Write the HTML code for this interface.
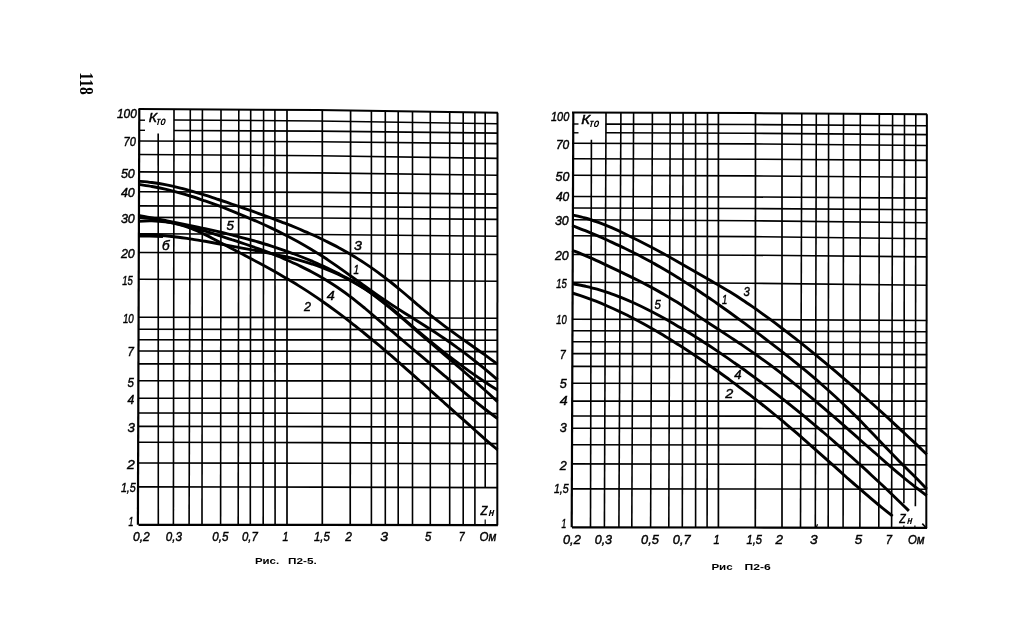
<!DOCTYPE html>
<html lang="ru">
<head>
<meta charset="utf-8">
<title>118</title>
<style>
html,body{margin:0;padding:0;background:#fff;}
body{width:1009px;height:644px;overflow:hidden;}
svg{display:block;}
</style>
</head>
<body>
<svg width="1009" height="644" viewBox="0 0 1009 644">
<rect x="0" y="0" width="1009" height="644" fill="#fff"/>
<g stroke="#000" fill="none" stroke-linecap="butt">
<line x1="139.3" y1="108.9" x2="137.9" y2="524.8" stroke-width="2.2"/>
<line x1="158.2" y1="133.5" x2="158.3" y2="524.8" stroke-width="1.6"/>
<line x1="174" y1="109.1" x2="173.4" y2="524.8" stroke-width="1.6"/>
<line x1="190.3" y1="109.2" x2="189.1" y2="524.8" stroke-width="1.6"/>
<line x1="202.4" y1="109.3" x2="202" y2="524.8" stroke-width="1.6"/>
<line x1="221" y1="109.4" x2="220.6" y2="524.9" stroke-width="1.6"/>
<line x1="238.8" y1="109.6" x2="238.2" y2="524.9" stroke-width="1.6"/>
<line x1="250.7" y1="109.6" x2="250.3" y2="524.9" stroke-width="1.6"/>
<line x1="263.6" y1="109.7" x2="263.2" y2="524.9" stroke-width="1.6"/>
<line x1="274.9" y1="109.8" x2="275.1" y2="524.9" stroke-width="1.6"/>
<line x1="287" y1="109.9" x2="287" y2="524.9" stroke-width="1.7"/>
<line x1="322.3" y1="110.1" x2="322.3" y2="524.9" stroke-width="1.7"/>
<line x1="350.6" y1="110.6" x2="350.2" y2="525" stroke-width="1.7"/>
<line x1="371.4" y1="110.9" x2="371.4" y2="525" stroke-width="1.6"/>
<line x1="385.3" y1="111.1" x2="385.3" y2="525" stroke-width="1.6"/>
<line x1="398.2" y1="111.3" x2="398.2" y2="525" stroke-width="1.6"/>
<line x1="412.5" y1="111.5" x2="412.5" y2="525.1" stroke-width="1.6"/>
<line x1="430.3" y1="111.8" x2="430.3" y2="525.1" stroke-width="1.6"/>
<line x1="449.7" y1="112.1" x2="449.7" y2="525.1" stroke-width="1.6"/>
<line x1="463.2" y1="112.3" x2="463.2" y2="525.1" stroke-width="1.6"/>
<line x1="474.9" y1="112.5" x2="474.9" y2="525.2" stroke-width="1.6"/>
<line x1="485.2" y1="112.6" x2="485.2" y2="487.6" stroke-width="1.6"/>
<line x1="497.5" y1="112.8" x2="497.3" y2="525.2" stroke-width="2.0"/>
<polyline points="138.5,108.9 318,110.1 497.9,112.8" stroke-width="2.0"/>
<polyline points="174,120 318,121 497.9,123.7" stroke-width="1.6"/>
<polyline points="174,130.5 318,131.1 497.9,133.1" stroke-width="1.6"/>
<polyline points="138.5,141 318,141.8 497.9,143.6" stroke-width="1.6"/>
<polyline points="138.5,154.5 318,155.7 497.9,158.4" stroke-width="1.6"/>
<polyline points="138.5,171.9 318,172.9 497.9,175.3" stroke-width="1.6"/>
<polyline points="138.5,191.7 318,192.4 497.9,194.1" stroke-width="1.6"/>
<polyline points="138.5,205.9 318,206.5 497.9,207.9" stroke-width="1.6"/>
<polyline points="138.5,217.4 318,218 497.9,219.4" stroke-width="1.6"/>
<polyline points="138.5,233.7 318,234.5 497.9,236.3" stroke-width="1.6"/>
<polyline points="138.5,252.5 318,253.1 497.9,254.5" stroke-width="1.6"/>
<polyline points="138.5,279.3 318,279.9 497.9,281.3" stroke-width="1.6"/>
<polyline points="138.5,317.2 318,317.5 497.9,318.3" stroke-width="1.6"/>
<polyline points="138.5,329.2 318,329.4 497.9,329.8" stroke-width="1.6"/>
<polyline points="138.5,339.7 318,339.9 497.9,340.3" stroke-width="1.6"/>
<polyline points="138.5,351 318,351.2 497.9,351.6" stroke-width="1.6"/>
<polyline points="138.5,363.9 318,363.9 497.9,363.9" stroke-width="1.6"/>
<polyline points="138.5,380.7 318,380.9 497.9,381.3" stroke-width="1.6"/>
<polyline points="138.5,398.2 318,398.2 497.9,398.2" stroke-width="1.6"/>
<polyline points="138.5,413 318,413.2 497.9,413.6" stroke-width="1.6"/>
<polyline points="138.5,426.4 318,426.6 497.9,427.2" stroke-width="1.6"/>
<polyline points="138.5,442.2 318,442.6 497.9,443.6" stroke-width="1.6"/>
<polyline points="138.5,463 318,463.2 497.9,463.8" stroke-width="1.6"/>
<polyline points="138.5,486.9 318,487.1 497.9,487.6" stroke-width="1.6"/>
<polyline points="138.5,524.8 318,524.9 497.9,525.2" stroke-width="2.2"/>
<line x1="139" y1="120.2" x2="145" y2="120.2" stroke-width="1.4"/>
<line x1="139" y1="130.3" x2="145" y2="130.3" stroke-width="1.4"/>
<line x1="485.2" y1="519.5" x2="485.2" y2="525" stroke-width="1.2"/>
</g>
<g stroke="#000" fill="none" stroke-linecap="butt" stroke-linejoin="round">
<path d="M138.6,181.2C140.8,181.4 147.5,181.9 151.9,182.5C156.3,183.1 160.8,183.8 165.2,184.7C169.6,185.5 174,186.5 178.5,187.6C182.9,188.7 187.3,189.9 191.8,191.1C196.2,192.4 200.6,193.8 205.1,195.1C209.5,196.5 213.9,198 218.4,199.5C222.8,200.9 227.2,202.5 231.6,204C236.1,205.5 240.5,207.1 244.9,208.6C249.4,210.2 253.8,211.7 258.2,213.3C262.7,214.9 267.1,216.5 271.5,218.1C276,219.8 280.4,221.4 284.8,223.2C289.2,224.9 293.7,226.7 298.1,228.5C302.5,230.4 307,232.3 311.4,234.3C315.8,236.2 320.3,238.3 324.7,240.5C329.1,242.7 333.6,244.9 338,247.3C342.4,249.7 346.9,252.1 351.3,254.8C355.7,257.4 360.1,260.2 364.6,263.1C369,266 373.4,269 377.9,272.3C382.3,275.5 386.7,279 391.2,282.5C395.6,286 400,289.8 404.5,293.5C408.9,297.2 413.3,301.1 417.7,304.8C422.2,308.5 426.6,312.2 431,315.7C435.5,319.2 439.9,322.6 444.3,325.9C448.8,329.2 453.2,332.4 457.6,335.6C462.1,338.8 466.5,341.9 470.9,345C475.3,348.2 479.8,351.2 484.2,354.4C488.6,357.6 495.3,362.6 497.5,364.2" stroke-width="2.9"/>
<path d="M138.6,184.4C140.8,184.8 147.5,185.7 151.9,186.5C156.3,187.3 160.8,188.2 165.2,189.2C169.6,190.3 174,191.4 178.5,192.6C182.9,193.8 187.3,195.1 191.8,196.5C196.2,197.9 200.6,199.4 205.1,200.9C209.5,202.5 213.9,204.1 218.4,205.7C222.8,207.4 227.2,209.1 231.6,210.9C236.1,212.7 240.5,214.5 244.9,216.3C249.4,218.2 253.8,220.1 258.2,222C262.7,224 267.1,226 271.5,228.1C276,230.2 280.4,232.4 284.8,234.7C289.2,236.9 293.7,239.3 298.1,241.7C302.5,244.2 307,246.8 311.4,249.4C315.8,252.1 320.3,254.9 324.7,257.8C329.1,260.8 333.6,263.8 338,266.9C342.4,270 346.9,273.2 351.3,276.4C355.7,279.6 360.1,282.9 364.6,286C369,289.2 373.4,292.4 377.9,295.5C382.3,298.5 386.7,301.5 391.2,304.4C395.6,307.3 400,310.1 404.5,312.9C408.9,315.7 413.3,318.4 417.7,321.2C422.2,324 426.6,326.8 431,329.7C435.5,332.5 439.9,335.5 444.3,338.5C448.8,341.5 453.2,344.6 457.6,347.9C462.1,351.1 466.5,354.4 470.9,357.8C475.3,361.2 479.8,364.8 484.2,368.4C488.6,372.1 495.3,377.9 497.5,379.8" stroke-width="2.9"/>
<path d="M138.6,215.3C140.8,215.8 147.5,217.1 151.9,217.9C156.3,218.8 160.8,219.6 165.2,220.5C169.6,221.4 174,222.2 178.5,223.1C182.9,224 187.3,224.9 191.8,225.8C196.2,226.7 200.6,227.7 205.1,228.6C209.5,229.6 213.9,230.6 218.4,231.6C222.8,232.6 227.2,233.7 231.6,234.8C236.1,235.9 240.5,237.1 244.9,238.3C249.4,239.5 253.8,240.7 258.2,242C262.7,243.3 267.1,244.7 271.5,246.1C276,247.6 280.4,249.1 284.8,250.6C289.2,252.2 293.7,253.8 298.1,255.5C302.5,257.2 307,259 311.4,260.9C315.8,262.8 320.3,264.7 324.7,266.8C329.1,268.9 333.6,271 338,273.3C342.4,275.6 346.9,277.9 351.3,280.5C355.7,283 360.1,285.7 364.6,288.6C369,291.5 373.4,294.5 377.9,297.8C382.3,301 386.7,304.5 391.2,308.2C395.6,311.8 400,315.7 404.5,319.5C408.9,323.2 413.3,327.1 417.7,330.9C422.2,334.6 426.6,338.3 431,341.9C435.5,345.6 439.9,349.1 444.3,352.6C448.8,356 453.2,359.4 457.6,362.7C462.1,366.1 466.5,369.3 470.9,372.4C475.3,375.5 479.8,378.6 484.2,381.5C488.6,384.4 495.3,388.6 497.5,390" stroke-width="2.9"/>
<path d="M138.6,234.5C140.8,234.6 147.5,234.6 151.9,234.8C156.3,235 160.8,235.4 165.2,235.8C169.6,236.2 174,236.7 178.5,237.3C182.9,237.8 187.3,238.5 191.8,239.1C196.2,239.8 200.6,240.6 205.1,241.3C209.5,242.1 213.9,242.9 218.4,243.7C222.8,244.5 227.2,245.3 231.6,246.1C236.1,247 240.5,247.8 244.9,248.6C249.4,249.4 253.8,250.2 258.2,251C262.7,251.8 267.1,252.7 271.5,253.6C276,254.5 280.4,255.5 284.8,256.5C289.2,257.5 293.7,258.6 298.1,259.9C302.5,261.1 307,262.4 311.4,263.8C315.8,265.3 320.3,266.8 324.7,268.6C329.1,270.3 333.6,272.1 338,274.2C342.4,276.3 346.9,278.5 351.3,280.9C355.7,283.4 360.1,286 364.6,288.9C369,291.8 373.4,295 377.9,298.3C382.3,301.6 386.7,305.2 391.2,308.9C395.6,312.6 400,316.4 404.5,320.2C408.9,324 413.3,327.9 417.7,331.8C422.2,335.6 426.6,339.4 431,343.2C435.5,347 439.9,350.8 444.3,354.7C448.8,358.5 453.2,362.3 457.6,366.1C462.1,370 466.5,373.8 470.9,377.7C475.3,381.6 479.8,385.6 484.2,389.5C488.6,393.5 495.3,399.6 497.5,401.6" stroke-width="2.9"/>
<path d="M138.6,235.6 L150,235.7 L163,236.1" stroke-width="3.6"/>
<path d="M138.6,217.2C140.8,217.5 147.5,218.2 151.9,218.9C156.3,219.6 160.8,220.4 165.2,221.2C169.6,222.1 174,223.1 178.5,224.1C182.9,225.2 187.3,226.3 191.8,227.5C196.2,228.7 200.6,229.9 205.1,231.2C209.5,232.5 213.9,233.9 218.4,235.3C222.8,236.7 227.2,238.1 231.6,239.6C236.1,241 240.5,242.5 244.9,244C249.4,245.5 253.8,247.1 258.2,248.7C262.7,250.3 267.1,251.9 271.5,253.6C276,255.4 280.4,257.1 284.8,259.1C289.2,261 293.7,262.9 298.1,265C302.5,267.2 307,269.4 311.4,271.8C315.8,274.1 320.3,276.6 324.7,279.3C329.1,282 333.6,284.8 338,287.8C342.4,290.8 346.9,294 351.3,297.4C355.7,300.7 360.1,304.4 364.6,308C369,311.7 373.4,315.5 377.9,319.3C382.3,323.1 386.7,326.9 391.2,330.7C395.6,334.5 400,338.2 404.5,342C408.9,345.7 413.3,349.4 417.7,353.2C422.2,356.9 426.6,360.6 431,364.4C435.5,368.1 439.9,371.9 444.3,375.7C448.8,379.4 453.2,383.2 457.6,386.9C462.1,390.6 466.5,394.3 470.9,397.9C475.3,401.5 479.8,405.1 484.2,408.5C488.6,411.9 495.3,416.9 497.5,418.5" stroke-width="2.9"/>
<path d="M138.6,221.2C140.8,221.1 147.5,220.8 151.9,220.9C156.3,221.1 160.8,221.4 165.2,221.9C169.6,222.5 174,223.3 178.5,224.4C182.9,225.5 187.3,227 191.8,228.7C196.2,230.4 200.6,232.5 205.1,234.6C209.5,236.8 213.9,239.2 218.4,241.5C222.8,243.8 227.2,246.2 231.6,248.5C236.1,250.8 240.5,253.2 244.9,255.5C249.4,257.8 253.8,260.2 258.2,262.5C262.7,264.9 267.1,267.3 271.5,269.8C276,272.3 280.4,274.8 284.8,277.4C289.2,280 293.7,282.6 298.1,285.4C302.5,288.1 307,290.9 311.4,293.9C315.8,296.8 320.3,299.9 324.7,303C329.1,306.1 333.6,309.4 338,312.7C342.4,316 346.9,319.4 351.3,322.9C355.7,326.3 360.1,329.9 364.6,333.5C369,337.1 373.4,340.7 377.9,344.4C382.3,348.2 386.7,351.9 391.2,355.7C395.6,359.5 400,363.4 404.5,367.3C408.9,371.1 413.3,375.1 417.7,379C422.2,382.9 426.6,386.9 431,390.8C435.5,394.8 439.9,398.8 444.3,402.8C448.8,406.7 453.2,410.7 457.6,414.7C462.1,418.6 466.5,422.6 470.9,426.5C475.3,430.5 479.8,434.4 484.2,438.3C488.6,442.2 495.3,447.9 497.5,449.8" stroke-width="2.9"/>
</g>
<g stroke="#000" fill="none" stroke-linecap="butt">
<line x1="573.3" y1="112.6" x2="571.7" y2="527.3" stroke-width="2.2"/>
<line x1="591.4" y1="139.8" x2="590.5" y2="527.3" stroke-width="1.6"/>
<line x1="606" y1="112.7" x2="604.4" y2="527.3" stroke-width="1.6"/>
<line x1="620.9" y1="112.7" x2="618.9" y2="527.3" stroke-width="1.6"/>
<line x1="633.6" y1="112.8" x2="631.8" y2="527.4" stroke-width="1.6"/>
<line x1="652.4" y1="112.8" x2="650.6" y2="527.4" stroke-width="1.6"/>
<line x1="670.2" y1="112.9" x2="668.8" y2="527.4" stroke-width="1.6"/>
<line x1="683.1" y1="112.9" x2="682.3" y2="527.4" stroke-width="1.6"/>
<line x1="695.6" y1="112.9" x2="695.6" y2="527.4" stroke-width="1.6"/>
<line x1="707.5" y1="113" x2="707.1" y2="527.4" stroke-width="1.6"/>
<line x1="718.4" y1="113" x2="718.4" y2="527.4" stroke-width="1.7"/>
<line x1="755.5" y1="113.1" x2="755.3" y2="527.5" stroke-width="1.7"/>
<line x1="782" y1="113.3" x2="782" y2="527.6" stroke-width="1.7"/>
<line x1="801.8" y1="113.4" x2="800.5" y2="527.6" stroke-width="1.6"/>
<line x1="816.3" y1="113.5" x2="815.3" y2="527.6" stroke-width="1.6"/>
<line x1="828.6" y1="113.6" x2="828.2" y2="527.7" stroke-width="1.6"/>
<line x1="843.5" y1="113.7" x2="843.1" y2="527.7" stroke-width="1.6"/>
<line x1="860.3" y1="113.8" x2="859.9" y2="527.7" stroke-width="1.6"/>
<line x1="879.3" y1="113.9" x2="878.8" y2="527.8" stroke-width="1.6"/>
<line x1="892.6" y1="114" x2="891.6" y2="527.8" stroke-width="1.6"/>
<line x1="904.5" y1="114.1" x2="903.9" y2="503.3" stroke-width="1.6"/>
<line x1="915.8" y1="114.1" x2="915.4" y2="506.3" stroke-width="1.6"/>
<line x1="926.9" y1="114.2" x2="926.3" y2="527.9" stroke-width="2.0"/>
<polyline points="572,112.6 750,113.1 927.1,114.2" stroke-width="2.0"/>
<polyline points="606,124.1 750,124.5 927.1,125.7" stroke-width="1.6"/>
<polyline points="606,132.8 750,133.3 927.1,134.6" stroke-width="1.6"/>
<polyline points="572,143.2 750,143.9 927.1,145.5" stroke-width="1.6"/>
<polyline points="572,158.7 750,159.2 927.1,160.4" stroke-width="1.6"/>
<polyline points="572,175.3 750,175.9 927.1,177.3" stroke-width="1.6"/>
<polyline points="572,196.5 750,197 927.1,198.1" stroke-width="1.6"/>
<polyline points="572,208 750,208.5 927.1,209.7" stroke-width="1.6"/>
<polyline points="572,219.8 750,220.7 927.1,222.8" stroke-width="1.6"/>
<polyline points="572,235.7 750,236.6 927.1,238.7" stroke-width="1.6"/>
<polyline points="572,254.5 750,255.2 927.1,256.9" stroke-width="1.6"/>
<polyline points="572,282.3 750,283.2 927.1,285.2" stroke-width="1.6"/>
<polyline points="572,319.2 750,319.6 927.1,320.5" stroke-width="1.6"/>
<polyline points="572,330.8 750,331.1 927.1,331.8" stroke-width="1.6"/>
<polyline points="572,341.7 750,342 927.1,342.7" stroke-width="1.6"/>
<polyline points="572,353.6 750,353.9 927.1,354.6" stroke-width="1.6"/>
<polyline points="572,366.4 750,366.7 927.1,367.4" stroke-width="1.6"/>
<polyline points="572,383.3 750,383.5 927.1,383.9" stroke-width="1.6"/>
<polyline points="572,401.1 750,401.1 927.1,401.1" stroke-width="1.6"/>
<polyline points="572,416 750,416.1 927.1,416.2" stroke-width="1.6"/>
<polyline points="572,428.2 750,428.4 927.1,428.8" stroke-width="1.6"/>
<polyline points="572,444.7 750,445 927.1,445.7" stroke-width="1.6"/>
<polyline points="572,463.9 750,464.2 927.1,464.9" stroke-width="1.6"/>
<polyline points="572,488.9 750,489 927.1,489.3" stroke-width="1.6"/>
<polyline points="572,527.3 750,527.5 927.1,527.9" stroke-width="2.2"/>
<line x1="573" y1="124" x2="578.5" y2="124" stroke-width="1.4"/>
<line x1="573" y1="132.8" x2="578.5" y2="132.8" stroke-width="1.4"/>
<line x1="903.8" y1="525.5" x2="903.8" y2="528" stroke-width="1.2"/>
<line x1="914.9" y1="525.5" x2="914.9" y2="528" stroke-width="1.2"/>
<line x1="922.3" y1="523.6" x2="925.6" y2="527.2" stroke-width="1.6"/>
<line x1="817.5" y1="524.3" x2="816.3" y2="527.5" stroke-width="1.2"/>
</g>
<g stroke="#000" fill="none" stroke-linecap="butt" stroke-linejoin="round">
<path d="M572.2,214.9C574.4,215.4 581,216.7 585.3,218C589.7,219.2 594.1,220.8 598.5,222.4C602.8,224 607.2,225.8 611.6,227.7C616,229.6 620.4,231.6 624.7,233.7C629.1,235.8 633.5,238 637.9,240.2C642.2,242.4 646.6,244.7 651,247C655.4,249.3 659.8,251.7 664.1,254.1C668.5,256.5 672.9,259 677.3,261.5C681.6,263.9 686,266.4 690.4,268.9C694.8,271.4 699.2,273.9 703.5,276.4C707.9,278.9 712.3,281.4 716.7,284C721,286.6 725.4,289.1 729.8,291.8C734.2,294.5 738.6,297.3 742.9,300.2C747.3,303.1 751.7,306.2 756.1,309.2C760.4,312.3 764.8,315.5 769.2,318.7C773.6,321.9 778,325.2 782.3,328.5C786.7,331.9 791.1,335.2 795.5,338.7C799.8,342.1 804.2,345.6 808.6,349.1C813,352.7 817.4,356.3 821.7,359.9C826.1,363.5 830.5,367.2 834.9,370.9C839.2,374.6 843.6,378.4 848,382.2C852.4,386 856.8,389.8 861.1,393.7C865.5,397.6 869.9,401.5 874.3,405.5C878.6,409.4 883,413.4 887.4,417.4C891.8,421.5 896.2,425.5 900.5,429.6C904.9,433.7 909.3,437.8 913.7,441.9C918,446.1 924.6,452.3 926.8,454.4" stroke-width="2.9"/>
<path d="M572.2,225.5C574.4,226.4 581,228.9 585.3,230.7C589.7,232.5 594.1,234.3 598.5,236.2C602.8,238.1 607.2,240 611.6,242.1C616,244.1 620.4,246.1 624.7,248.3C629.1,250.4 633.5,252.6 637.9,254.8C642.2,257.1 646.6,259.4 651,261.8C655.4,264.3 659.8,266.7 664.1,269.3C668.5,271.8 672.9,274.5 677.3,277.2C681.6,279.9 686,282.6 690.4,285.5C694.8,288.3 699.2,291.2 703.5,294.2C707.9,297.1 712.3,300.2 716.7,303.2C721,306.3 725.4,309.4 729.8,312.5C734.2,315.7 738.6,318.9 742.9,322.1C747.3,325.3 751.7,328.6 756.1,331.9C760.4,335.1 764.8,338.4 769.2,341.8C773.6,345.1 778,348.5 782.3,351.9C786.7,355.4 791.1,358.8 795.5,362.4C799.8,365.9 804.2,369.5 808.6,373.2C813,376.9 817.4,380.6 821.7,384.5C826.1,388.3 830.5,392.2 834.9,396.3C839.2,400.3 843.6,404.4 848,408.6C852.4,412.8 856.8,417.2 861.1,421.6C865.5,426.1 869.9,430.7 874.3,435.2C878.6,439.8 883,444.5 887.4,449C891.8,453.6 896.2,458.1 900.5,462.5C904.9,467 909.3,471.1 913.7,475.5C918,479.9 924.6,486.7 926.8,488.9" stroke-width="2.9"/>
<path d="M572.2,250.3C574.4,251.2 581,253.7 585.3,255.6C589.7,257.5 594.1,259.4 598.5,261.4C602.8,263.4 607.2,265.5 611.6,267.6C616,269.6 620.4,271.7 624.7,273.9C629.1,276 633.5,278.1 637.9,280.3C642.2,282.5 646.6,284.8 651,287.1C655.4,289.5 659.8,291.9 664.1,294.4C668.5,296.9 672.9,299.6 677.3,302.3C681.6,305.1 686,308 690.4,310.9C694.8,313.7 699.2,316.7 703.5,319.6C707.9,322.5 712.3,325.4 716.7,328.3C721,331.1 725.4,334 729.8,336.9C734.2,339.8 738.6,342.6 742.9,345.6C747.3,348.6 751.7,351.6 756.1,354.7C760.4,357.8 764.8,361 769.2,364.2C773.6,367.5 778,370.8 782.3,374.2C786.7,377.6 791.1,381.1 795.5,384.6C799.8,388.1 804.2,391.7 808.6,395.4C813,399 817.4,402.7 821.7,406.4C826.1,410.1 830.5,413.9 834.9,417.7C839.2,421.5 843.6,425.3 848,429.1C852.4,433 856.8,436.8 861.1,440.7C865.5,444.6 869.9,448.5 874.3,452.3C878.6,456.2 883,460.1 887.4,463.8C891.8,467.6 896.2,471.4 900.5,475C904.9,478.7 909.3,482.3 913.7,485.7C918,489.2 924.6,494 926.8,495.7" stroke-width="2.9"/>
<path d="M572.2,283.7C574.3,284.1 580.5,285.1 584.7,286C588.8,287 593,288 597.1,289.2C601.3,290.4 605.5,291.8 609.6,293.2C613.8,294.7 617.9,296.3 622.1,297.9C626.2,299.6 630.4,301.4 634.6,303.3C638.7,305.2 642.9,307.2 647,309.3C651.2,311.4 655.3,313.5 659.5,315.8C663.6,318 667.8,320.3 672,322.7C676.1,325.1 680.3,327.5 684.4,330C688.6,332.5 692.7,335.1 696.9,337.7C701.1,340.3 705.2,343 709.4,345.7C713.5,348.5 717.7,351.3 721.8,354.1C726,356.9 730.2,359.8 734.3,362.8C738.5,365.7 742.6,368.7 746.8,371.7C750.9,374.7 755.1,377.8 759.3,380.9C763.4,384 767.6,387.2 771.7,390.4C775.9,393.6 780,396.8 784.2,400.1C788.4,403.4 792.5,406.7 796.7,410.1C800.8,413.5 805,416.9 809.1,420.3C813.3,423.8 817.5,427.3 821.6,430.8C825.8,434.4 829.9,437.9 834.1,441.6C838.2,445.2 842.4,448.8 846.5,452.5C850.7,456.2 854.9,460 859,463.7C863.2,467.5 867.3,471.3 871.5,475.2C875.6,479 879.8,482.9 884,486.8C888.1,490.8 892.3,494.7 896.4,498.7C900.6,502.7 906.8,508.8 908.9,510.9" stroke-width="2.9"/>
<path d="M572.2,293C574.2,293.6 580.1,295.5 584.1,296.8C588,298.2 592,299.7 595.9,301.2C599.9,302.8 603.8,304.4 607.8,306.2C611.8,307.9 615.7,309.7 619.7,311.6C623.6,313.5 627.6,315.4 631.5,317.5C635.5,319.5 639.4,321.6 643.4,323.8C647.4,325.9 651.3,328.2 655.3,330.5C659.2,332.8 663.2,335.1 667.1,337.6C671.1,340 675,342.5 679,345C683,347.5 686.9,350.1 690.9,352.7C694.8,355.3 698.8,358 702.7,360.7C706.7,363.5 710.6,366.2 714.6,369C718.6,371.8 722.5,374.7 726.5,377.5C730.4,380.4 734.4,383.3 738.3,386.3C742.3,389.2 746.2,392.2 750.2,395.2C754.2,398.3 758.1,401.4 762.1,404.5C766,407.6 770,410.8 773.9,414C777.9,417.2 781.8,420.5 785.8,423.8C789.8,427.2 793.7,430.5 797.7,433.9C801.6,437.4 805.6,440.8 809.5,444.3C813.5,447.8 817.4,451.3 821.4,454.8C825.4,458.3 829.3,461.9 833.3,465.4C837.2,468.9 841.2,472.5 845.1,476C849.1,479.5 853,483 857,486.4C861,489.9 864.9,493.3 868.9,496.7C872.8,500 876.8,503.4 880.7,506.6C884.7,509.9 890.6,514.5 892.6,516.1" stroke-width="2.9"/>
</g>
<g font-family="'Liberation Sans', sans-serif" font-style="italic" fill="#000" stroke="#000" stroke-width="0.45">
<text x="116.9" y="118.4" textLength="19.9" lengthAdjust="spacingAndGlyphs" font-size="13.2">100</text>
<text x="123.5" y="146.1" textLength="12.3" lengthAdjust="spacingAndGlyphs" font-size="13.2">70</text>
<text x="120.9" y="177.9" textLength="13.9" lengthAdjust="spacingAndGlyphs" font-size="13.2">50</text>
<text x="120.9" y="197.1" textLength="13.9" lengthAdjust="spacingAndGlyphs" font-size="13.2">40</text>
<text x="120.9" y="223.4" textLength="13.9" lengthAdjust="spacingAndGlyphs" font-size="13.2">30</text>
<text x="120.9" y="257.9" textLength="13.9" lengthAdjust="spacingAndGlyphs" font-size="13.2">20</text>
<text x="122.3" y="285.2" textLength="10.5" lengthAdjust="spacingAndGlyphs" font-size="13.2">15</text>
<text x="122.9" y="322.8" textLength="10.9" lengthAdjust="spacingAndGlyphs" font-size="13.2">10</text>
<text x="127.4" y="355.5" textLength="6.4" lengthAdjust="spacingAndGlyphs" font-size="13.2">7</text>
<text x="127.4" y="386.7" textLength="6.4" lengthAdjust="spacingAndGlyphs" font-size="13.2">5</text>
<text x="127.4" y="404.1" textLength="6.8" lengthAdjust="spacingAndGlyphs" font-size="13.2">4</text>
<text x="127.4" y="432.1" textLength="7.4" lengthAdjust="spacingAndGlyphs" font-size="13.2">3</text>
<text x="127" y="469" textLength="7.8" lengthAdjust="spacingAndGlyphs" font-size="13.2">2</text>
<text x="120.9" y="491.6" textLength="14.9" lengthAdjust="spacingAndGlyphs" font-size="13.2">1,5</text>
<text x="128.5" y="526" textLength="5" lengthAdjust="spacingAndGlyphs" font-size="13.2">1</text>
<text x="133" y="541.1" textLength="16.8" lengthAdjust="spacingAndGlyphs" font-size="13.2">0,2</text>
<text x="165.7" y="541.1" textLength="16.2" lengthAdjust="spacingAndGlyphs" font-size="13.2">0,3</text>
<text x="212.3" y="541.1" textLength="16.2" lengthAdjust="spacingAndGlyphs" font-size="13.2">0,5</text>
<text x="242" y="541.1" textLength="15.8" lengthAdjust="spacingAndGlyphs" font-size="13.2">0,7</text>
<text x="282.6" y="541.1" textLength="6" lengthAdjust="spacingAndGlyphs" font-size="13.2">1</text>
<text x="314" y="541.1" textLength="15.8" lengthAdjust="spacingAndGlyphs" font-size="13.2">1,5</text>
<text x="345.3" y="541.1" textLength="6.7" lengthAdjust="spacingAndGlyphs" font-size="13.2">2</text>
<text x="380.3" y="541.1" textLength="7.8" lengthAdjust="spacingAndGlyphs" font-size="13.2">3</text>
<text x="425" y="541.1" textLength="6.3" lengthAdjust="spacingAndGlyphs" font-size="13.2">5</text>
<text x="458.7" y="541.1" textLength="5.9" lengthAdjust="spacingAndGlyphs" font-size="13.2">7</text>
<text x="479.5" y="541.1" textLength="16.8" lengthAdjust="spacingAndGlyphs" font-size="13.2">Ом</text>
<text x="226.5" y="229.7" textLength="7.4" lengthAdjust="spacingAndGlyphs" font-size="13.2">5</text>
<text x="161.9" y="250" textLength="7.6" lengthAdjust="spacingAndGlyphs" font-size="13.2">б</text>
<text x="304" y="310.5" textLength="7" lengthAdjust="spacingAndGlyphs" font-size="13.2">2</text>
<text x="354" y="249.6" textLength="7.9" lengthAdjust="spacingAndGlyphs" font-size="13.2">3</text>
<text x="353.6" y="273.7" textLength="5.6" lengthAdjust="spacingAndGlyphs" font-size="13.2">1</text>
<text x="326.8" y="300.1" textLength="8" lengthAdjust="spacingAndGlyphs" font-size="13.2">4</text>
<text x="551" y="120.6" textLength="18.3" lengthAdjust="spacingAndGlyphs" font-size="13.2">100</text>
<text x="555.9" y="148.6" textLength="13.4" lengthAdjust="spacingAndGlyphs" font-size="13.2">70</text>
<text x="555.5" y="180.6" textLength="13.8" lengthAdjust="spacingAndGlyphs" font-size="13.2">50</text>
<text x="555.9" y="201" textLength="13.4" lengthAdjust="spacingAndGlyphs" font-size="13.2">40</text>
<text x="554.9" y="225.4" textLength="13.8" lengthAdjust="spacingAndGlyphs" font-size="13.2">30</text>
<text x="554.9" y="259.9" textLength="13.8" lengthAdjust="spacingAndGlyphs" font-size="13.2">20</text>
<text x="556.3" y="288.2" textLength="10.5" lengthAdjust="spacingAndGlyphs" font-size="13.2">15</text>
<text x="556.3" y="324.4" textLength="10.5" lengthAdjust="spacingAndGlyphs" font-size="13.2">10</text>
<text x="559.8" y="358.5" textLength="6" lengthAdjust="spacingAndGlyphs" font-size="13.2">7</text>
<text x="559.8" y="387.9" textLength="7" lengthAdjust="spacingAndGlyphs" font-size="13.2">5</text>
<text x="559.8" y="405.1" textLength="7.9" lengthAdjust="spacingAndGlyphs" font-size="13.2">4</text>
<text x="559.8" y="432.2" textLength="7" lengthAdjust="spacingAndGlyphs" font-size="13.2">3</text>
<text x="559.8" y="469.9" textLength="7" lengthAdjust="spacingAndGlyphs" font-size="13.2">2</text>
<text x="553.9" y="493.2" textLength="14.8" lengthAdjust="spacingAndGlyphs" font-size="13.2">1,5</text>
<text x="561.4" y="527.9" textLength="4.8" lengthAdjust="spacingAndGlyphs" font-size="13.2">1</text>
<text x="563" y="544.2" textLength="17.8" lengthAdjust="spacingAndGlyphs" font-size="13.2">0,2</text>
<text x="594.7" y="544.2" textLength="17.4" lengthAdjust="spacingAndGlyphs" font-size="13.2">0,3</text>
<text x="641.1" y="544.2" textLength="17.8" lengthAdjust="spacingAndGlyphs" font-size="13.2">0,5</text>
<text x="672.8" y="544.2" textLength="17.8" lengthAdjust="spacingAndGlyphs" font-size="13.2">0,7</text>
<text x="713.5" y="543.8" textLength="6.2" lengthAdjust="spacingAndGlyphs" font-size="13.2">1</text>
<text x="746.5" y="543.8" textLength="15.4" lengthAdjust="spacingAndGlyphs" font-size="13.2">1,5</text>
<text x="775.5" y="543.8" textLength="7.5" lengthAdjust="spacingAndGlyphs" font-size="13.2">2</text>
<text x="810" y="543.8" textLength="7.6" lengthAdjust="spacingAndGlyphs" font-size="13.2">3</text>
<text x="854.8" y="543.8" textLength="7.4" lengthAdjust="spacingAndGlyphs" font-size="13.2">5</text>
<text x="885.7" y="543.8" textLength="6.3" lengthAdjust="spacingAndGlyphs" font-size="13.2">7</text>
<text x="908" y="543.8" textLength="16.6" lengthAdjust="spacingAndGlyphs" font-size="13.2">Ом</text>
<text x="654.6" y="308.6" textLength="6.3" lengthAdjust="spacingAndGlyphs" font-size="13.2">5</text>
<text x="722" y="304.1" textLength="5.3" lengthAdjust="spacingAndGlyphs" font-size="13.2">1</text>
<text x="743.6" y="296.1" textLength="6.3" lengthAdjust="spacingAndGlyphs" font-size="13.2">3</text>
<text x="734.2" y="379.3" textLength="7.3" lengthAdjust="spacingAndGlyphs" font-size="13.2">4</text>
<text x="725.3" y="397.8" textLength="8" lengthAdjust="spacingAndGlyphs" font-size="13.2">2</text>
<text x="148.7" y="121.5" textLength="8.3" lengthAdjust="spacingAndGlyphs" font-size="13.2">К</text>
<text transform="translate(155.6,125) skewX(-14)" x="0" y="0" textLength="9.4" lengthAdjust="spacingAndGlyphs" font-size="12" font-style="normal" font-weight="bold" stroke="none">то</text>
<text x="581.2" y="124.3" textLength="8.9" lengthAdjust="spacingAndGlyphs" font-size="13.2">К</text>
<text transform="translate(588.6,127.4) skewX(-14)" x="0" y="0" textLength="9.8" lengthAdjust="spacingAndGlyphs" font-size="12" font-style="normal" font-weight="bold" stroke="none">то</text>
<text x="480.5" y="515.3" textLength="7" lengthAdjust="spacingAndGlyphs" font-size="13.2">Z</text>
<text transform="translate(488,515.9) skewX(-14)" x="0" y="0" textLength="5.6" lengthAdjust="spacingAndGlyphs" font-size="11.5" font-style="normal" font-weight="bold" stroke="none">н</text>
<text x="899.3" y="522.6" textLength="6.5" lengthAdjust="spacingAndGlyphs" font-size="13.2">Z</text>
<text transform="translate(906.6,523.7) skewX(-14)" x="0" y="0" textLength="5.2" lengthAdjust="spacingAndGlyphs" font-size="11.5" font-style="normal" font-weight="bold" stroke="none">н</text>
</g>
<g font-family="'Liberation Sans', sans-serif" font-weight="bold" fill="#000">
<text x="254.9" y="564.3" textLength="24.2" lengthAdjust="spacingAndGlyphs" font-size="8.9">Рис.</text>
<text x="288.1" y="564.3" textLength="28.7" lengthAdjust="spacingAndGlyphs" font-size="8.9">П2-5.</text>
<text x="711.4" y="570" textLength="21.3" lengthAdjust="spacingAndGlyphs" font-size="8.9">Рис</text>
<text x="744.6" y="570" textLength="26.3" lengthAdjust="spacingAndGlyphs" font-size="8.9">П2-6</text>
</g>
<text transform="translate(80.2,72.2) rotate(90)" x="0" y="0" textLength="22.6" lengthAdjust="spacingAndGlyphs" font-family="'Liberation Serif', serif" font-weight="bold" font-size="18.6" fill="#000">118</text>
</svg>
</body>
</html>
